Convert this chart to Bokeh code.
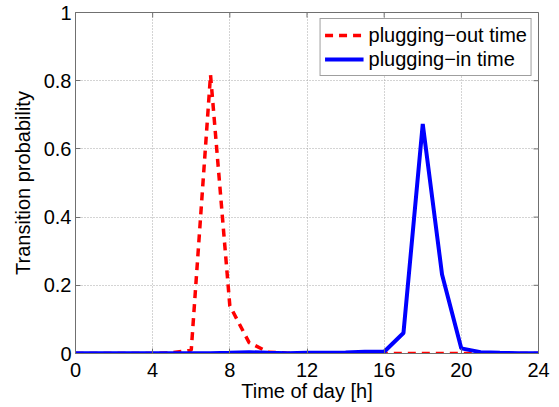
import math
from bokeh.plotting import figure
from bokeh.models import Range1d, FixedTicker, Legend, LegendItem, ColumnDataSource
from bokeh.embed import file_html
from bokeh.resources import INLINE

hours = list(range(25))
plug_out = [0, 0, 0, 0, 0, 0.002, 0.01, 0.817, 0.14, 0.032, 0.004, 0.001, 0,
            0, 0, 0, 0, 0, 0, 0, 0, 0, 0, 0, 0]
plug_in = [0.001, 0.001, 0.001, 0.001, 0.001, 0.001, 0.001, 0.001, 0.002, 0.004, 0.002, 0.001, 0.002,
           0.002, 0.003, 0.005, 0.005, 0.06, 0.673, 0.232, 0.015, 0.004, 0.002, 0.001, 0.001]
x_ticks = [0, 4, 8, 12, 16, 20, 24]
y_ticks = [0, 0.2, 0.4, 0.6, 0.8, 1]
y_tick_labels = {0: "0", 0.2: "0.2", 0.4: "0.4", 0.6: "0.6", 0.8: "0.8", 1: "1"}

FONT = "Liberation Sans"
AX = "#707070"

p = figure(width=551, height=407, output_backend="svg", toolbar_location=None,
           x_range=Range1d(0, 24), y_range=Range1d(0, 1),
           min_border_left=75, min_border_right=13, min_border_top=12, min_border_bottom=54)

src = ColumnDataSource(dict(h=hours, out=plug_out, inn=plug_in))
r_out = p.line("h", "out", source=src, line_color="#ff0000", line_width=3.5, line_dash="8 6")
r_in = p.line("h", "inn", source=src, line_color="#0000ff", line_width=4)

p.outline_line_color = AX
p.outline_line_width = 1
p.background_fill_color = "white"
p.border_fill_color = "white"

for ax in (p.xaxis[0], p.yaxis[0]):
    ax.major_tick_in = 5
    ax.major_tick_out = 0
    ax.minor_tick_line_color = None
    ax.axis_line_color = AX
    ax.major_tick_line_color = AX
    ax.major_label_text_font = FONT
    ax.major_label_text_font_size = "20px"
    ax.major_label_text_color = "black"
    ax.axis_label_text_font = FONT
    ax.axis_label_text_font_size = "20px"
    ax.axis_label_text_font_style = "normal"
    ax.axis_label_text_color = "black"

p.xaxis[0].ticker = FixedTicker(ticks=x_ticks)
p.yaxis[0].ticker = FixedTicker(ticks=y_ticks)
p.yaxis[0].major_label_overrides = y_tick_labels
p.xaxis[0].axis_label = "Time of day [h]"
p.yaxis[0].axis_label = "Transition probability"
p.xaxis[0].major_label_standoff = 9
p.xaxis[0].axis_label_standoff = 0
p.yaxis[0].major_label_standoff = 4
p.yaxis[0].axis_label_standoff = 7

# inner ticks on the top and right edges of the box
top_src = ColumnDataSource(dict(x=x_ticks, y=[1] * len(x_ticks)))
right_src = ColumnDataSource(dict(x=[24] * len(y_ticks), y=y_ticks))
p.scatter("x", "y", source=top_src, marker="dash", size=10, angle=math.pi / 2,
          line_color=AX, line_width=1)
p.scatter("x", "y", source=right_src, marker="dash", size=10,
          line_color=AX, line_width=1)

for g in (p.xgrid[0], p.ygrid[0]):
    g.grid_line_color = "#a8a8a8"
    g.grid_line_dash = "1 2"
    g.grid_line_width = 1
p.xgrid[0].ticker = FixedTicker(ticks=x_ticks)
p.ygrid[0].ticker = FixedTicker(ticks=y_ticks)

legend = Legend(items=[LegendItem(label="plugging\u2212out time", renderers=[r_out]),
                       LegendItem(label="plugging\u2212in time", renderers=[r_in])],
                location="top_right")
legend.label_text_font = FONT
legend.label_text_font_size = "20px"
legend.label_text_color = "black"
legend.glyph_width = 39
legend.glyph_height = 24
legend.label_height = 24
legend.label_standoff = 5
legend.spacing = 0
legend.padding = 4
legend.margin = 6
legend.border_line_color = "#404040"
legend.border_line_width = 1
legend.background_fill_color = "white"
legend.background_fill_alpha = 1
p.add_layout(legend)

open("out.html", "w").write(file_html(p, INLINE))
